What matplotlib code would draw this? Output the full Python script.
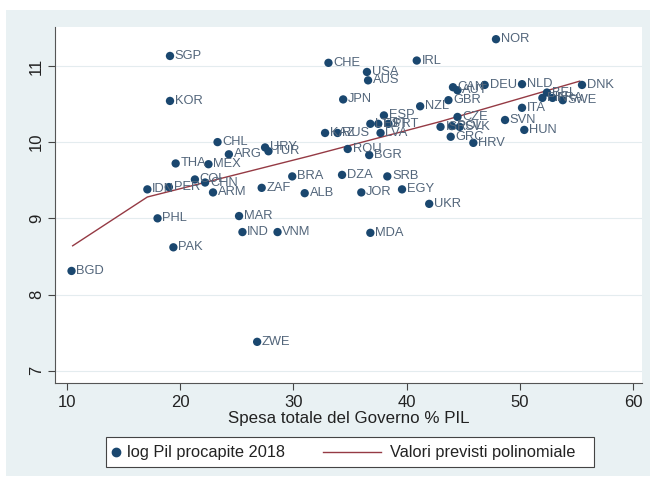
import matplotlib.pyplot as plt
import matplotlib.patches as mpatches
from matplotlib.lines import Line2D

plt.rcParams['font.family'] = ['Liberation Sans', 'DejaVu Sans']

# spesa pubblica (% PIL) e log PIL procapite 2018 per paese
paesi = ["NOR", "SGP", "CHE", "IRL", "USA", "AUS", "KOR", "JPN", "DEU", "CAN",
         "AUT", "NLD", "FIN", "FRA", "BEL", "SWE", "DNK", "GBR", "NZL", "ESP",
         "ITA", "SVN", "HUN", "CZE", "ISR", "POL", "SVK", "GRC", "HRV", "KAZ",
         "RUS", "LTU", "EST", "PRT", "LVA", "ROU", "BGR", "CHL", "ARG", "URY",
         "TUR", "THA", "MEX", "COL", "CHN", "PER", "IDN", "ARM", "ZAF", "BRA",
         "ALB", "DZA", "SRB", "JOR", "EGY", "UKR", "MDA", "PHL", "MAR", "IND",
         "VNM", "PAK", "BGD", "ZWE"]
spesa = [47.9, 19.1, 33.1, 40.9, 36.5, 36.6, 19.1, 34.4, 46.9, 44.1,
         44.5, 50.2, 52.0, 52.9, 52.4, 53.8, 55.5, 43.7, 41.2, 38.0,
         50.2, 48.7, 50.4, 44.5, 43.0, 44.0, 44.7, 43.9, 45.9, 32.8,
         33.9, 36.8, 37.5, 38.4, 37.7, 34.8, 36.7, 23.3, 24.3, 27.5,
         27.8, 19.6, 22.5, 21.3, 22.2, 19.0, 17.1, 22.9, 27.2, 29.9,
         31.0, 34.3, 38.3, 36.0, 39.6, 42.0, 36.8, 18.0, 25.2, 25.5,
         28.6, 19.4, 10.4, 26.8]
log_pil = [11.35, 11.13, 11.04, 11.07, 10.92, 10.81, 10.54, 10.56, 10.75, 10.72,
           10.68, 10.76, 10.58, 10.58, 10.65, 10.55, 10.75, 10.55, 10.47, 10.35,
           10.45, 10.29, 10.16, 10.33, 10.20, 10.21, 10.20, 10.07, 9.99, 10.12,
           10.12, 10.24, 10.24, 10.24, 10.12, 9.91, 9.83, 10.00, 9.84, 9.93,
           9.88, 9.72, 9.71, 9.51, 9.47, 9.41, 9.38, 9.34, 9.40, 9.55,
           9.33, 9.57, 9.55, 9.34, 9.38, 9.19, 8.81, 9.00, 9.03, 8.82,
           8.82, 8.62, 8.31, 7.38]

# valori previsti dal modello polinomiale
prev_x = [10.5, 17.1, 31.5, 43.0, 55.3]
prev_y = [8.64, 9.28, 9.82, 10.27, 10.80]

x_ticks = [10, 20, 30, 40, 50, 60]
y_ticks = [7, 8, 9, 10, 11]
legend_labels = ["log Pil procapite 2018", "Valori previsti polinomiale"]

navy = "#1a476f"
maroon = "#953a44"
label_col = "#52657a"
bg = "#e9f1f3"

W, H = 656, 482


def fx(px):
    return px / W


def fy(py):
    return 1 - py / H


fig = plt.figure(figsize=(W / 100, H / 100), dpi=100)
fig.patch.set_facecolor("white")
fig.add_artist(mpatches.Rectangle((fx(6), fy(476)), 644 / W, 466 / H,
                                  transform=fig.transFigure, facecolor=bg,
                                  edgecolor="none", zorder=-10))

ax = fig.add_axes([fx(55), fy(383), 587 / W, 356 / H])
ax.set_zorder(1)
ax.set_facecolor("white")

ax.plot(prev_x, prev_y, color=maroon, lw=1.0, zorder=2)
ax.scatter(spesa, log_pil, s=36, color=navy, edgecolors="none", zorder=3)
for nome, xv, yv in zip(paesi, spesa, log_pil):
    ax.annotate(nome, (xv, yv), xytext=(3.5, 0), textcoords="offset points",
                ha="left", va="center", fontsize=9.3, color=label_col, zorder=4)

ax.set_xlim(8.94, 60.8)
ax.set_ylim(6.84, 11.51)
ax.set_xticks(x_ticks)
ax.set_yticks(y_ticks)
ax.set_yticklabels([str(v) for v in y_ticks], rotation=90, va="center")
ax.tick_params(axis="both", labelsize=12, length=5, width=0.8, color="#444444",
               labelcolor="#222222")
ax.tick_params(axis="y", pad=3)
ax.grid(axis="y", color="#e4ecef", lw=0.8, zorder=0)
ax.set_axisbelow(True)
for side in ["top", "right"]:
    ax.spines[side].set_visible(False)
for side in ["left", "bottom"]:
    ax.spines[side].set_color("#555555")
    ax.spines[side].set_linewidth(0.8)

ax.set_xlabel("Spesa totale del Governo % PIL", fontsize=12.2, color="#222222", labelpad=1)

# legenda disegnata a mano, in stile Stata
fig.add_artist(mpatches.Rectangle((fx(106), fy(467)), 488 / W, 30 / H,
                                  transform=fig.transFigure, facecolor="white",
                                  edgecolor="#444444", lw=0.8, zorder=2))
fig.add_artist(Line2D([fx(116)], [fy(452)], ls="none", marker="o", markersize=6,
                      color=navy, transform=fig.transFigure, zorder=3))
fig.text(fx(127), fy(452), legend_labels[0], fontsize=11.8, color="#222222",
         ha="left", va="center", zorder=3)
fig.add_artist(Line2D([fx(323), fx(381)], [fy(452), fy(452)], color=maroon, lw=1.0,
                      transform=fig.transFigure, zorder=3))
fig.text(fx(390), fy(452), legend_labels[1], fontsize=11.8, color="#222222",
         ha="left", va="center", zorder=3)

fig.savefig("out.png", dpi=100)
